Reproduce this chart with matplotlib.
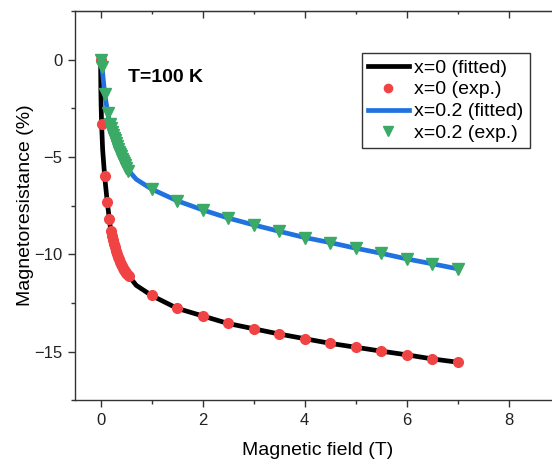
import matplotlib
matplotlib.use("Agg")
import matplotlib.pyplot as plt
from matplotlib.ticker import MultipleLocator

plt.rcParams['font.family'] = ['Liberation Sans', 'DejaVu Sans']

# x=0 sample, experimental points
campo_x0 = [0, 0.02, 0.08, 0.13, 0.17, 0.2, 0.22, 0.24, 0.26, 0.28, 0.3, 0.32, 0.34,
            0.36, 0.38, 0.4, 0.42, 0.44, 0.46, 0.48, 0.5, 0.52, 0.55,
            1.0, 1.5, 2.0, 2.5, 3.0, 3.5, 4.0, 4.5, 5.0, 5.5, 6.0, 6.5, 7.0]
mr_x0 = [0, -3.3, -5.97, -7.32, -8.2, -8.83, -9.05, -9.25, -9.45, -9.65, -9.85, -10.0, -10.12,
         -10.25, -10.38, -10.5, -10.6, -10.7, -10.8, -10.88, -10.95, -11.02, -11.1,
         -12.12, -12.78, -13.17, -13.56, -13.83, -14.1, -14.34, -14.58, -14.78, -14.98,
         -15.17, -15.38, -15.55]

# x=0 sample, fitted curve
campo_fit0 = [0, 0.005, 0.01, 0.02, 0.04, 0.08, 0.13, 0.2, 0.3, 0.4, 0.5, 0.7, 1.0,
              1.5, 2.0, 2.5, 3.0, 3.5, 4.0, 4.5, 5.0, 5.5, 6.0, 6.5, 7.0]
mr_fit0 = [0, -1.5, -2.3, -3.3, -4.6, -6.0, -7.3, -8.8, -9.85, -10.5, -10.95, -11.6, -12.12,
           -12.78, -13.17, -13.56, -13.83, -14.1, -14.34, -14.58, -14.78, -14.98, -15.17,
           -15.38, -15.55]

# x=0.2 sample, experimental points
campo_x02 = [0, 0.03, 0.08, 0.14, 0.18, 0.2, 0.22, 0.24, 0.26, 0.28, 0.3, 0.32, 0.34,
             0.36, 0.38, 0.4, 0.42, 0.44, 0.46, 0.48, 0.5, 0.53,
             1.0, 1.5, 2.0, 2.5, 3.0, 3.5, 4.0, 4.5, 5.0, 5.5, 6.0, 6.5, 7.0]
mr_x02 = [0, -0.4, -1.75, -2.74, -3.3, -3.5, -3.7, -3.85, -4.0, -4.15, -4.3, -4.45, -4.6,
          -4.72, -4.85, -4.97, -5.1, -5.2, -5.3, -5.42, -5.55, -5.7,
          -6.65, -7.25, -7.72, -8.14, -8.49, -8.82, -9.14, -9.4, -9.69, -9.95, -10.24,
          -10.49, -10.75]

# x=0.2 sample, fitted curve
campo_fit02 = [0, 0.03, 0.08, 0.14, 0.2, 0.3, 0.4, 0.5, 0.7, 1.0, 1.5, 2.0, 2.5, 3.0,
               3.5, 4.0, 4.5, 5.0, 5.5, 6.0, 6.5, 7.0]
mr_fit02 = [0, -0.4, -1.75, -2.74, -3.5, -4.3, -4.97, -5.55, -6.15, -6.65, -7.25, -7.72,
            -8.14, -8.49, -8.82, -9.14, -9.4, -9.69, -9.95, -10.24, -10.49, -10.75]

fig = plt.figure(figsize=(5.52, 4.61), dpi=100)
ax = fig.add_axes([0.136, 0.132, 0.878, 0.844])

ax.plot(campo_fit0, mr_fit0, color='black', lw=3.4, label='x=0 (fitted)', zorder=2)
ax.plot(campo_x0, mr_x0, 'o', color='#f04444', ms=7, mec='#f04444', ls='none',
        label='x=0 (exp.)', zorder=3)
ax.plot(campo_fit02, mr_fit02, color='#1f72e0', lw=3.4, label='x=0.2 (fitted)', zorder=2)
ax.plot(campo_x02, mr_x02, 'v', color='#3aaa66', ms=8.5, mec='#3aaa66', ls='none',
        label='x=0.2 (exp.)', zorder=3)

ax.text(0.54, -0.94, 'T=100 K', fontsize=14, fontweight='bold', va='center', ha='left')

ax.set_xlim(-0.5, 9)
ax.set_ylim(-17.5, 2.5)
ax.xaxis.set_major_locator(MultipleLocator(2))
ax.xaxis.set_minor_locator(MultipleLocator(1))
ax.yaxis.set_major_locator(MultipleLocator(5))
ax.yaxis.set_minor_locator(MultipleLocator(2.5))

for s in ax.spines.values():
    s.set_color('#333333')
    s.set_linewidth(1.0)

ax.tick_params(which='both', direction='out', colors='#333333', labelcolor='#222222',
               labelsize=12, top=False, right=False)
ax.tick_params(which='major', length=5, width=1, pad=4)
ax.tick_params(which='minor', length=3, width=1)

# ticks inward on the top axis
ax_top = ax.secondary_xaxis('top')
ax_top.xaxis.set_major_locator(MultipleLocator(2))
ax_top.xaxis.set_minor_locator(MultipleLocator(1))
ax_top.tick_params(which='both', direction='in', colors='#333333', labeltop=False)
ax_top.tick_params(which='major', length=5, width=1)
ax_top.tick_params(which='minor', length=2.5, width=1)
ax_top.spines['top'].set_color('#333333')

ax.set_xlabel('Magnetic field (T)', fontsize=14, labelpad=10)
ax.set_ylabel('Magnetoresistance (%)', fontsize=14, labelpad=0)

leg = ax.legend(loc='upper left', bbox_to_anchor=(0.592, 0.892), fontsize=14,
                handlelength=2.1, labelspacing=0.22, borderpad=0.3, handletextpad=0.3,
                markerscale=0.85, fancybox=False, framealpha=1, edgecolor='#333333',
                borderaxespad=0)
leg.get_frame().set_linewidth(1.0)

plt.savefig('out.png', dpi=100)
